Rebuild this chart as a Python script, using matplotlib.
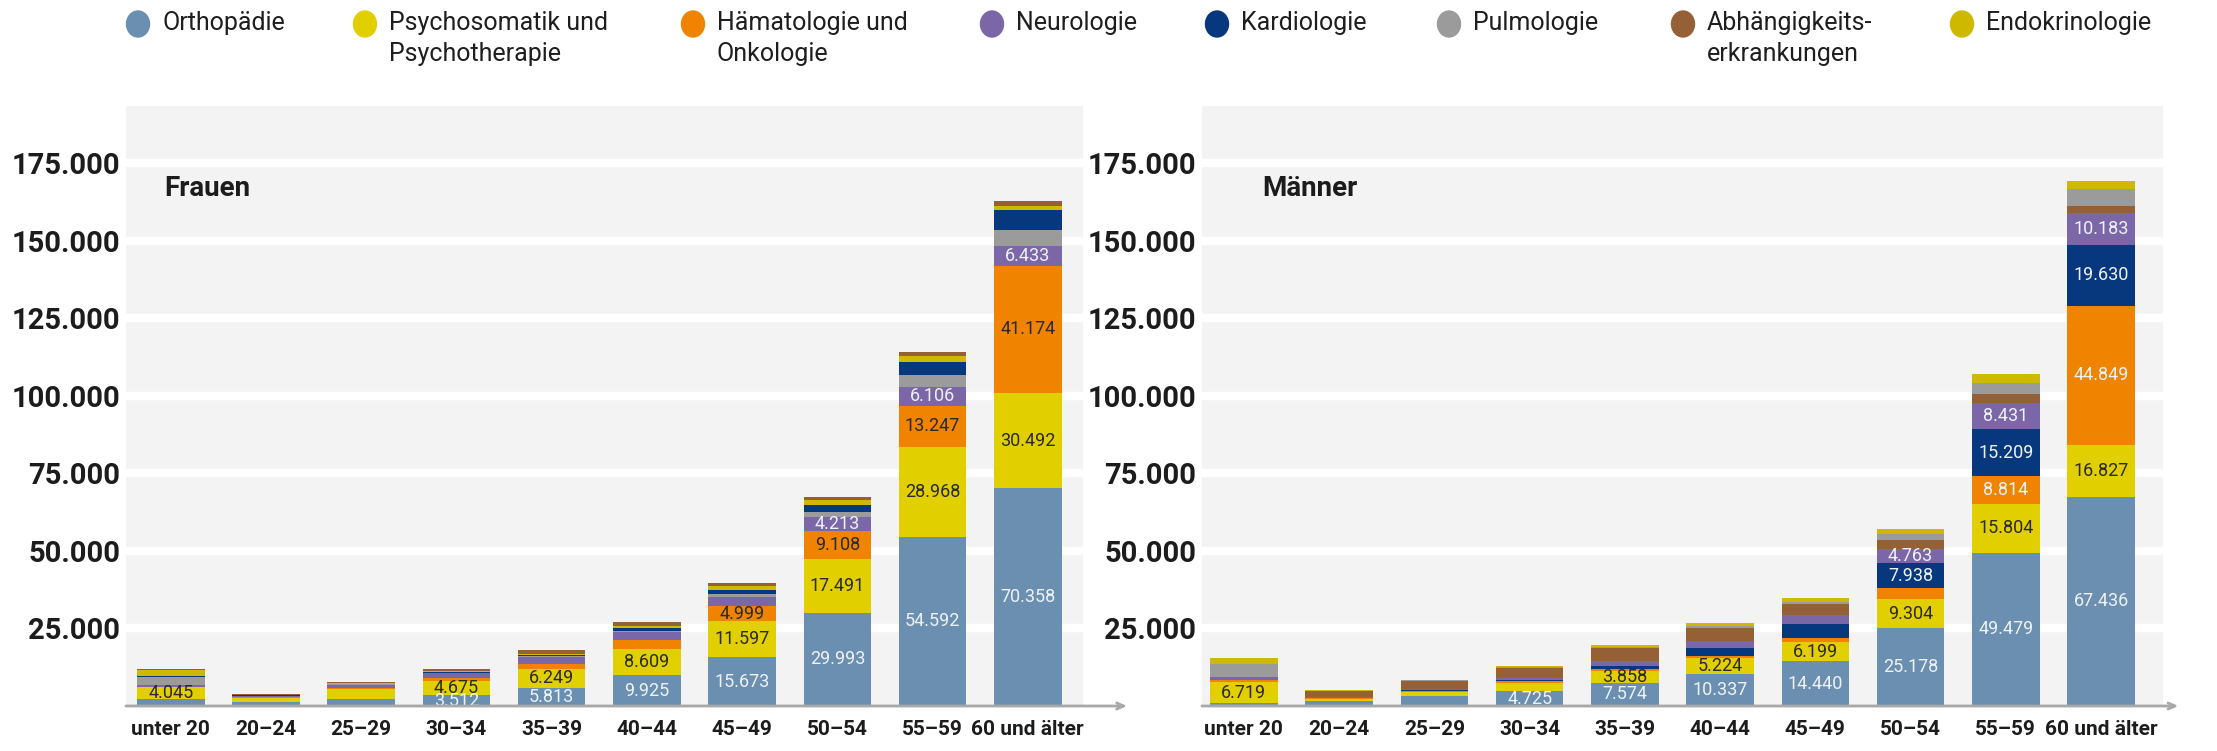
import matplotlib
matplotlib.use("Agg")
import matplotlib.pyplot as plt
from matplotlib import font_manager
from matplotlib.patches import Ellipse
import numpy as np


# Altersgruppen (x-Achse)
age_groups = ["unter 20", "20–24", "25–29", "30–34", "35–39",
              "40–44", "45–49", "50–54", "55–59", "60 und älter"]

# Frauen – Werte je Indikation (von unten nach oben gestapelt)
ortho_f = [2100, 1300, 2400, 3512, 5813, 9925, 15673, 29993, 54592, 70358]
psych_f = [4045, 1200, 3200, 4675, 6249, 8609, 11597, 17491, 28968, 30492]
haema_f = [100, 300, 200, 1000, 1500, 2900, 4999, 9108, 13247, 41174]
neuro_f = [600, 300, 900, 1300, 2100, 2300, 2900, 4213, 6106, 6433]
pulmo_f = [2600, 200, 400, 300, 400, 600, 1000, 1600, 3900, 5200]
kardio_f = [300, 100, 100, 300, 300, 700, 1300, 2300, 4200, 6200]
endo_f = [1800, 200, 200, 300, 400, 700, 1100, 1600, 1900, 1500]
abh_f = [300, 300, 500, 600, 1300, 1400, 1200, 1000, 1300, 1400]

# Männer – Werte je Indikation (andere Stapelreihenfolge)
ortho_m = [900, 1600, 3200, 4725, 7574, 10337, 14440, 25178, 49479, 67436]
psych_m = [6719, 700, 1300, 2800, 3858, 5224, 6199, 9304, 15804, 16827]
haema_m = [700, 300, 300, 400, 600, 600, 1300, 3600, 8814, 44849]
kardio_m = [100, 100, 400, 400, 900, 2600, 4500, 7938, 15209, 19630]
neuro_m = [800, 200, 200, 700, 1600, 2200, 2900, 4763, 8431, 10183]
abh_m = [100, 1900, 2700, 3300, 4100, 4200, 3500, 2900, 2800, 2400]
pulmo_m = [4100, 100, 300, 400, 300, 600, 600, 1900, 3500, 5500]
endo_m = [2200, 100, 100, 300, 600, 900, 1300, 1600, 2900, 2600]

# Welche Segmente eine Zahl tragen (Index der Altersgruppe)
labeled_f = {"ortho": [3, 4, 5, 6, 7, 8, 9], "psych": [0, 3, 4, 5, 6, 7, 8, 9],
             "haema": [6, 7, 8, 9], "neuro": [7, 8, 9]}
labeled_m = {"ortho": [3, 4, 5, 6, 7, 8, 9], "psych": [0, 4, 5, 6, 7, 8, 9],
             "haema": [8, 9], "kardio": [7, 8, 9], "neuro": [7, 8, 9]}

# Farben und Legendentexte
colors = {"ortho": "#6a8fb0", "psych": "#e2cf00", "haema": "#f08300",
          "neuro": "#7b67a8", "kardio": "#07377c", "pulmo": "#9b9b9b",
          "abh": "#966037", "endo": "#cfb900"}
legend_keys = ["ortho", "psych", "haema", "neuro", "kardio", "pulmo", "abh", "endo"]
legend_labels = ["Orthopädie", "Psychosomatik und\nPsychotherapie",
                 "Hämatologie und\nOnkologie", "Neurologie", "Kardiologie",
                 "Pulmologie", "Abhängigkeits-\nerkrankungen", "Endokrinologie"]

light_txt = "#eef2f6"
dark_txt = "#2a2a2a"
txtcol_f = {"ortho": light_txt, "psych": dark_txt, "haema": dark_txt, "neuro": light_txt}
txtcol_m = {"ortho": light_txt, "psych": dark_txt, "haema": light_txt,
            "kardio": light_txt, "neuro": light_txt}

stack_f = [("ortho", ortho_f), ("psych", psych_f), ("haema", haema_f), ("neuro", neuro_f),
           ("pulmo", pulmo_f), ("kardio", kardio_f), ("endo", endo_f), ("abh", abh_f)]
stack_m = [("ortho", ortho_m), ("psych", psych_m), ("haema", haema_m), ("kardio", kardio_m),
           ("neuro", neuro_m), ("abh", abh_m), ("pulmo", pulmo_m), ("endo", endo_m)]

# Schriften
installed = {f.name for f in font_manager.fontManager.ttflist}
narrow = "Liberation Sans Narrow" if "Liberation Sans Narrow" in installed else "Roboto"
plt.rcParams["font.family"] = ["Roboto", "DejaVu Sans"]

W, H = 2217, 751
fig = plt.figure(figsize=(W / 100, H / 100), dpi=100)
fig.patch.set_facecolor("white")


def draw_panel(ax, stack, labeled, txtcol, title, xlim, title_x, arrow_x):
    x = np.arange(len(age_groups))
    bottom = np.zeros(len(age_groups))
    for key, vals in stack:
        vals = np.array(vals, dtype=float)
        ax.bar(x, vals, bottom=bottom, width=0.71, color=colors[key], zorder=3)
        for i in labeled.get(key, []):
            ax.text(x[i], bottom[i] + vals[i] / 2, f"{vals[i]:,.0f}".replace(",", "."),
                    ha="center", va="center", fontsize=13, family=narrow,
                    color=txtcol[key], zorder=4, clip_on=True)
        bottom += vals

    ax.set_facecolor("#f3f3f3")
    ax.set_xlim(*xlim)
    ax.set_ylim(0, 193500)
    ticks = np.arange(25000, 175001, 25000)
    ax.set_yticks(ticks)
    ax.set_yticklabels([f"{t:,.0f}".replace(",", ".") for t in ticks],
                       fontsize=21, fontweight="bold", color="#1c1c1c")
    ax.set_xticks(x)
    ax.set_xticklabels(age_groups, fontsize=15, fontweight="bold", color="#1c1c1c")
    ax.tick_params(axis="both", length=0)
    ax.tick_params(axis="x", pad=10)
    ax.tick_params(axis="y", pad=4)
    ax.yaxis.grid(True, color="white", linewidth=6)
    ax.set_axisbelow(True)
    for s in ax.spines.values():
        s.set_visible(False)

    # Grundlinie mit Pfeil
    ax.annotate("", xy=(arrow_x, 0), xytext=(0, 0), xycoords="axes fraction",
                arrowprops=dict(arrowstyle="->,head_length=0.5,head_width=0.22",
                                color="#a8a8a8", lw=2, shrinkA=0, shrinkB=0),
                annotation_clip=False, zorder=5)

    ax.text(title_x, 0.862, title, transform=ax.transAxes, fontsize=20,
            fontweight="bold", color="#1c1c1c", va="center", ha="left")


ax_f = fig.add_axes([126 / W, 45 / H, 957 / W, 600 / H])
draw_panel(ax_f, stack_f, labeled_f, txtcol_f, "Frauen", (-0.47, 9.58), 0.04, 1.046)

ax_m = fig.add_axes([1202 / W, 45 / H, 961 / W, 600 / H])
draw_panel(ax_m, stack_m, labeled_m, txtcol_m, "Männer", (-0.44, 9.65), 0.063, 1.016)

# Legende oben (in Pixelkoordinaten)
lax = fig.add_axes([0, 0, 1, 1])
lax.set_xlim(0, W)
lax.set_ylim(H, 0)
lax.axis("off")
legend_x = [138, 365, 693, 992, 1217, 1449, 1683, 1962]
for key, lab, lx in zip(legend_keys, legend_labels, legend_x):
    lax.add_patch(Ellipse((lx, 24), 23, 26, color=colors[key]))
    lax.text(lx + 24, 11, lab, fontsize=18, color="#1e1e1e", va="top", ha="left",
             linespacing=1.35)

fig.savefig("out.png", dpi=100)
